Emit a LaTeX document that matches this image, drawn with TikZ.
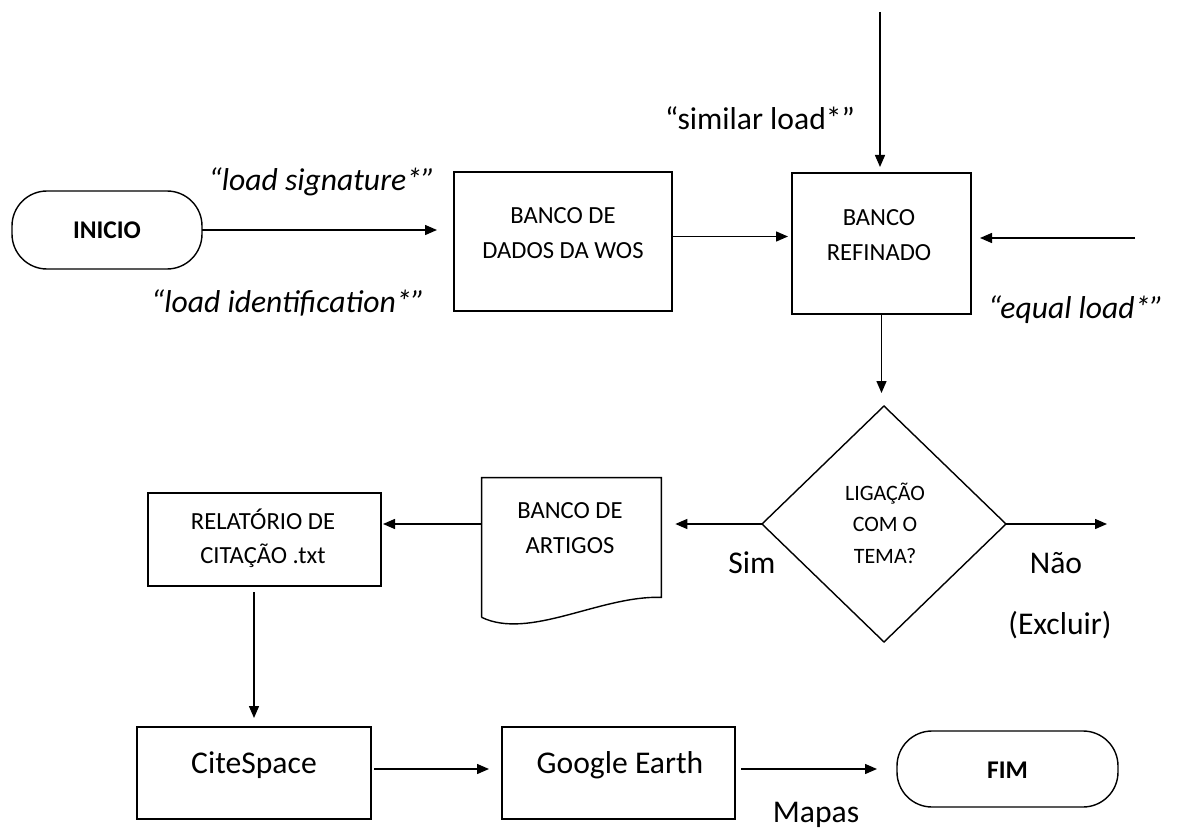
\documentclass[tikz,border=0pt]{standalone}
\usepackage{fontspec}
\setmainfont{Carlito}
\usetikzlibrary{shapes.geometric, arrows.meta, calc}

\begin{document}
\begin{tikzpicture}
    % --- Style Definitions ---
    \tikzset{
        terminal style/.style={
            draw=black,
            line width=0.8pt,
            rounded corners=0.7cm,
            minimum height=1.56cm,
            outer sep=0pt
        },
        process style/.style={
            draw=black,
            line width=0.8pt,
            minimum width=4.66cm,
            minimum height=1.84cm,
            outer sep=0pt
        },
        decision style/.style={
            draw=black,
            line width=0.8pt,
            diamond,
            minimum width=4.88cm,
            minimum height=4.72cm,
            inner sep=0pt,
            outer sep=0pt
        },
        box text/.style={
            font=\fontsize{14}{19.5}\selectfont,
            align=center
        },
        label text/.style={
            font=\fontsize{18}{21}\selectfont,
            color=black
        },
        query text/.style={
            font=\fontsize{18}{21}\selectfont\itshape,
            color=black
        },
        flow arrow/.style={
            -{Triangle[length=0.24cm, width=0.2cm]},
            line width=0.8pt,
            black
        }
    }

    \useasboundingbox (0,0) rectangle (23.78,-16.6);

    % --- 1. Top Row ---
    \node[terminal style, minimum width=3.80cm] (inicio) at (2.14,-4.60) {};
    \node[font=\fontsize{14.5}{16}\selectfont\bfseries] (inicio_txt) at (inicio.center) {INICIO};

    \node[process style, minimum width=4.36cm, minimum height=2.78cm] (wos) at (11.26,-4.83) {};
    \node[box text] (wos_txt) at (11.26,-4.66) {BANCO DE\\DADOS DA WOS};

    \node[process style, minimum width=3.58cm, minimum height=2.82cm] (refinado) at (17.63,-4.87) {};
    \node[box text] (refinado_txt) at (17.58,-4.70) {BANCO\\REFINADO};

    % --- 2. Middle Row ---
    \node[decision style] (decisao) at (17.68,-10.48) {};
    \node[box text, font=\fontsize{12.5}{18}\selectfont] (decisao_txt) at (17.70,-10.46) {LIGAÇÃO\\COM O\\TEMA?};

    % document shape drawn round an empty node
    \node[minimum width=3.58cm, minimum height=2.78cm, inner sep=0pt] (artigos) at (11.43,-10.95) {};
    \draw[line width=0.8pt] (artigos.south west) -- (artigos.north west) -- (artigos.north east)
        -- ([yshift=0.40cm]artigos.south east)
        .. controls +(-1.22,0.04) and +(0.96,-0.46) .. (artigos.south west);
    \node[box text] (artigos_txt) at (11.40,-10.56) {BANCO DE\\ARTIGOS};

    \node[process style, minimum height=1.86cm] (relatorio) at (5.29,-10.79) {};
    \node[box text] (relatorio_txt) at (5.26,-10.76) {RELATÓRIO DE\\CITAÇÃO .txt};

    % --- 3. Bottom Row ---
    \node[process style, minimum width=4.68cm] (citespace) at (5.08,-15.46) {};
    \node[label text] (citespace_txt) at (5.08,-15.30) {CiteSpace};

    \node[process style] (google) at (12.37,-15.46) {};
    \node[label text] (google_txt) at (12.40,-15.30) {Google Earth};

    \node[terminal style, minimum width=4.42cm, minimum height=1.52cm] (fim) at (20.15,-15.38) {};
    \node[font=\fontsize{14.5}{16}\selectfont\bfseries] (fim_txt) at (20.15,-15.40) {FIM};

    % --- 4. Connectors ---
    \coordinate (topin) at (17.60,-0.24);
    \coordinate (rightin) at (22.70,-4.76);
    \coordinate (naoend) at (22.14,-10.48);

    \draw[flow arrow, shorten >=0.34cm] (inicio.east) -- (inicio.east -| wos.west);
    \draw[flow arrow, shorten >=0.08cm] ([yshift=0.1cm]wos.east) -- ([yshift=0.1cm]wos.east -| refinado.west);
    \draw[flow arrow, shorten >=0.12cm] (topin) -- (topin |- refinado.north);
    \draw[flow arrow, shorten >=0.18cm] (rightin) -- (rightin -| refinado.east);
    \draw[flow arrow, shorten >=0.26cm] (refinado.south) -- (refinado.south |- decisao.north);
    \draw[flow arrow, shorten >=0.28cm] (decisao.west) -- (decisao.west -| artigos.east);
    \draw[flow arrow] (decisao.east) -- (naoend);
    \draw[flow arrow, shorten >=0.04cm] (decisao.west -| artigos.west) -- (decisao.west -| relatorio.east);
    \draw[flow arrow, shorten >=0.18cm] ([yshift=-0.12cm]relatorio.south -| citespace.north) -- (citespace.north);
    \draw[flow arrow, shorten <=0.06cm, shorten >=0.26cm] ([yshift=0.08cm]citespace.east) -- ([yshift=0.08cm]citespace.east -| google.west);
    \draw[flow arrow, shorten <=0.12cm, shorten >=0.40cm] (google.east |- fim.west) -- (fim.west);

    % --- 5. Labels ---
    \node[query text] (lbl_sig) at (6.44,-3.64) {“load signature*”};
    \node[query text] (lbl_ident) at (5.76,-6.06) {“load identification*”};
    \node[label text] (lbl_similar) at (15.20,-2.36) {“similar load*”};
    \node[query text] (lbl_equal) at (21.52,-6.20) {“equal load*”};
    \node[label text] (lbl_sim) at (15.04,-11.26) {Sim};
    \node[label text] (lbl_nao) at (21.12,-11.26) {Não};
    \node[label text] (lbl_excluir) at (21.20,-12.50) {(Excluir)};
    \node[label text] (lbl_mapas) at (16.32,-16.30) {Mapas};

\end{tikzpicture}
\end{document}
